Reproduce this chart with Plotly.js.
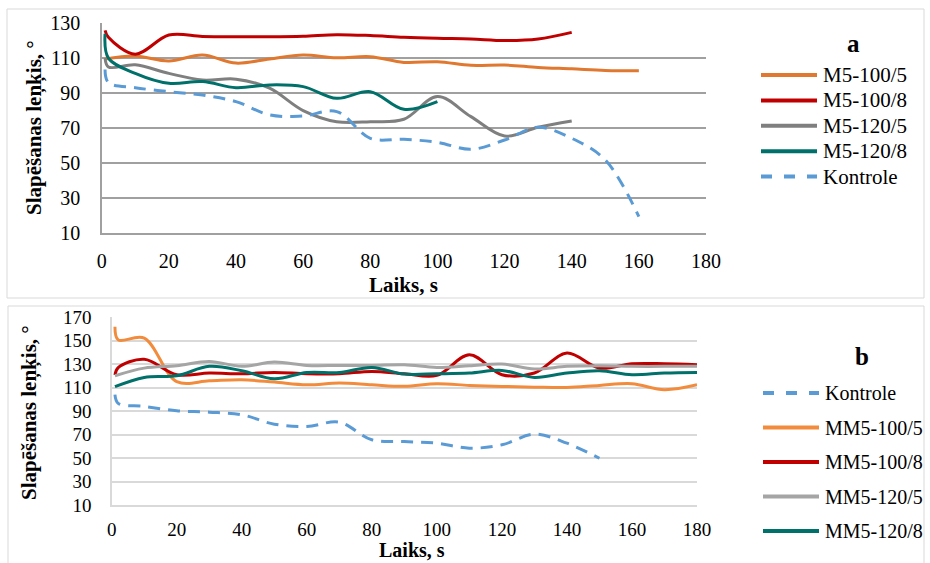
<!DOCTYPE html>
<html>
<head>
<meta charset="utf-8">
<script src="https://cdn.plot.ly/plotly-3.0.1.min.js"></script>
<style>html,body{margin:0;padding:0;background:#fff;}#chart{width:930px;height:563px;}</style>
</head>
<body>
<div id="chart"></div>
<script>
// ---------- data ----------
const timeA = [1, 2, 10, 20, 30, 40, 50, 60, 70, 80, 90, 100, 110, 120, 130, 140, 150, 160];
const namesA = ['M5-100/5', 'M5-100/8', 'M5-120/5', 'M5-120/8', 'Kontrole'];
const m5_100_5 = [109.5, null, 111.2, 108.4, 111.8, 107.2, 109.6, 111.8, 110.2, 110.9, 107.6, 108, 105.9, 106.1, 104.7, 103.9, 103, 102.8];
const m5_100_8 = [126, 122, 112.3, 123.3, 122.5, 122.3, 122.3, 122.6, 123.5, 123, 122, 121.4, 121, 120.1, 121, 124.8, null, null];
const m5_120_5 = [110, 105, 106.2, 101.3, 97.5, 98, 92.8, 80, 73.6, 73.6, 75, 88, 76.5, 65.4, 70.4, 74, null, null];
const m5_120_8 = [124, 110, 101.3, 95.6, 96.6, 93.1, 94.7, 93.7, 87, 90.8, 80.7, 85.1, null, null, null, null, null, null];
const kontroleA = [103.5, 96, 93.1, 90.8, 88.9, 85.1, 77.5, 76.9, 79.4, 64.1, 63.5, 61.8, 57.8, 63.1, 70.4, 64.1, 51.7, 19.2];

const timeB = [1, 2, 10, 20, 30, 40, 50, 60, 70, 80, 90, 100, 110, 120, 130, 140, 150, 160, 170, 180];
const namesB = ['Kontrole', 'MM5-100/5', 'MM5-100/8', 'MM5-120/5', 'MM5-120/8'];
const kontroleB = [104, 96.5, 93.9, 90.2, 89, 86.8, 78.8, 76.8, 80.5, 65.5, 64, 62.6, 58.4, 61.2, 70.3, 62.6, 49.8, null, null, null];
const mm5_100_5 = [161.7, 150.5, 152, 115, 115.7, 116.6, 114.6, 112.3, 113.8, 112.3, 111, 113.2, 111.8, 110.9, 110.3, 110, 111.8, 113.2, 108.1, 112.3];
const mm5_100_8 = [120.6, 127, 134, 120.9, 122.3, 121.7, 122.8, 121.7, 121.7, 123.7, 121.7, 120.3, 137.9, 120.9, 122.3, 139.3, 126.5, 130.2, 130.2, 129.4];
const mm5_120_5 = [120, null, 126.5, 128.5, 132.2, 128, 131.6, 128.8, 128.8, 128.8, 129.4, 127.1, 128.5, 130, 125.7, 128, 128.5, 128, 128, 128];
const mm5_120_8 = [110.7, null, 118.6, 120, 128, 124.3, 117.4, 122.8, 122.8, 127.1, 121.4, 121.7, 122.3, 124.5, 118.6, 122.3, 124.3, 120.9, 122.3, 122.8];

const xTicks = [0, 20, 40, 60, 80, 100, 120, 140, 160, 180];
const yTicksA = [10, 30, 50, 70, 90, 110, 130];
const yTicksB = [10, 30, 50, 70, 90, 110, 130, 150, 170];
const xTitle = 'Laiks, s';
const yTitle = 'Slapēšanas leņķis, °';

// ---------- styles ----------
const W = 930, H = 563;
const px = v => v / W;
const py = v => 1 - v / H;
const SERIF = '"Liberation Serif", "Times New Roman", serif';

const seriesA = [
  {y: m5_100_5, color: '#E0782F', dash: 'solid'},
  {y: m5_100_8, color: '#C00000', dash: 'solid'},
  {y: m5_120_5, color: '#7F7F7F', dash: 'solid'},
  {y: m5_120_8, color: '#00706A', dash: 'solid'},
  {y: kontroleA, color: '#5B9BD5', dash: '12px,8px'}
];
const seriesB = [
  {y: kontroleB, color: '#5B9BD5', dash: '12px,8px'},
  {y: mm5_100_5, color: '#F28C3C', dash: 'solid'},
  {y: mm5_100_8, color: '#C00000', dash: 'solid'},
  {y: mm5_120_5, color: '#A5A5A5', dash: 'solid'},
  {y: mm5_120_8, color: '#00706A', dash: 'solid'}
];

const traces = [];
seriesA.forEach((s, i) => traces.push({
  type: 'scatter', mode: 'lines', x: timeA, y: s.y, name: namesA[i],
  xaxis: 'x', yaxis: 'y', connectgaps: true, showlegend: false,
  line: {color: s.color, width: 3, dash: s.dash, shape: 'spline', smoothing: 1}
}));
seriesB.forEach((s, i) => traces.push({
  type: 'scatter', mode: 'lines', x: timeB, y: s.y, name: namesB[i],
  xaxis: 'x2', yaxis: 'y2', connectgaps: true, showlegend: false,
  line: {color: s.color, width: 3, dash: s.dash, shape: 'spline', smoothing: 1}
}));

const titleFont = {family: SERIF, size: 21, color: '#000'};
const titleFontB = {family: SERIF, size: 20, color: '#000'};

const shapes = [
  {type: 'rect', xref: 'paper', yref: 'paper', x0: px(7), x1: px(924), y0: py(298), y1: py(9), line: {color: '#D9D9D9', width: 1}, layer: 'below'},
  {type: 'rect', xref: 'paper', yref: 'paper', x0: px(8), x1: px(924), y0: py(575), y1: py(306), line: {color: '#D9D9D9', width: 1}, layer: 'below'}
];
const annotations = [
  {xref: 'paper', yref: 'paper', x: px(853), y: py(43), text: '<b>a</b>', showarrow: false, xanchor: 'center', yanchor: 'middle', font: {family: SERIF, size: 25, color: '#000'}},
  {xref: 'paper', yref: 'paper', x: px(862), y: py(356), text: '<b>b</b>', showarrow: false, xanchor: 'center', yanchor: 'middle', font: {family: SERIF, size: 25, color: '#000'}},
  // axis titles
  {xref: 'paper', yref: 'paper', x: px(403), y: py(285), text: '<b>' + xTitle + '</b>', showarrow: false, xanchor: 'center', yanchor: 'middle', font: titleFont},
  {xref: 'paper', yref: 'paper', x: px(34), y: py(128), text: '<b>' + yTitle + '</b>', textangle: -90, showarrow: false, xanchor: 'center', yanchor: 'middle', font: titleFont},
  {xref: 'paper', yref: 'paper', x: px(412), y: py(550), text: '<b>' + xTitle + '</b>', showarrow: false, xanchor: 'center', yanchor: 'middle', font: titleFontB},
  {xref: 'paper', yref: 'paper', x: px(29), y: py(413), text: '<b>' + yTitle + '</b>', textangle: -90, showarrow: false, xanchor: 'center', yanchor: 'middle', font: titleFont}
];
// legends drawn by hand so the sample lines are as long as in the reference
seriesA.forEach((s, i) => {
  const yy = py(75 + 25.4 * i);
  shapes.push({type: 'line', xref: 'paper', yref: 'paper', x0: px(761), x1: px(817), y0: yy, y1: yy, line: {color: s.color, width: 4, dash: s.dash === 'solid' ? 'solid' : '11px,12px'}});
  annotations.push({xref: 'paper', yref: 'paper', x: px(821), y: yy, text: namesA[i], showarrow: false, xanchor: 'left', yanchor: 'middle', font: {family: SERIF, size: 21, color: '#000'}});
});
seriesB.forEach((s, i) => {
  const yy = py(393 + 34.5 * i);
  shapes.push({type: 'line', xref: 'paper', yref: 'paper', x0: px(763), x1: px(819), y0: yy, y1: yy, line: {color: s.color, width: 4, dash: s.dash === 'solid' ? 'solid' : '11px,12px'}});
  annotations.push({xref: 'paper', yref: 'paper', x: px(823), y: yy, text: namesB[i], showarrow: false, xanchor: 'left', yanchor: 'middle', font: {family: SERIF, size: 20, color: '#000'}});
});

const tickFontA = {family: SERIF, size: 20, color: '#000'};
const tickFontB = {family: SERIF, size: 19, color: '#000'};

const layout = {
  width: W, height: H,
  margin: {l: 0, r: 0, t: 0, b: 0},
  paper_bgcolor: '#fff', plot_bgcolor: 'rgba(0,0,0,0)',
  showlegend: false,
  xaxis: {
    domain: [px(101.7), px(706)], range: [0, 180], tickvals: xTicks, ticks: '',
    showgrid: false, zeroline: false, showline: true, linecolor: '#A0A0A0', linewidth: 2,
    tickfont: tickFontA, ticklabelstandoff: 9, automargin: false, anchor: 'y'
  },
  yaxis: {
    domain: [py(232.7), py(23.3)], range: [10, 130], tickvals: yTicksA, ticks: '',
    showgrid: true, gridcolor: '#A0A0A0', gridwidth: 2, zeroline: false,
    showline: true, linecolor: '#A0A0A0', linewidth: 1.5,
    tickfont: tickFontA, ticklabelstandoff: 16, automargin: false, anchor: 'x'
  },
  xaxis2: {
    domain: [px(111.7), px(697)], range: [0, 180], tickvals: xTicks, ticks: '',
    showgrid: false, zeroline: false, showline: true, linecolor: '#D9D9D9', linewidth: 2,
    tickfont: tickFontB, ticklabelstandoff: 6, automargin: false, anchor: 'y2'
  },
  yaxis2: {
    domain: [py(505), py(317)], range: [10, 170], tickvals: yTicksB, ticks: '',
    showgrid: true, gridcolor: '#D9D9D9', gridwidth: 2, zeroline: false,
    showline: true, linecolor: '#D9D9D9', linewidth: 1.5,
    tickfont: tickFontB, ticklabelstandoff: 15, automargin: false, anchor: 'x2'
  },
  shapes: shapes,
  annotations: annotations
};

Plotly.newPlot('chart', traces, layout, {staticPlot: true, displayModeBar: false});
</script>
</body>
</html>
